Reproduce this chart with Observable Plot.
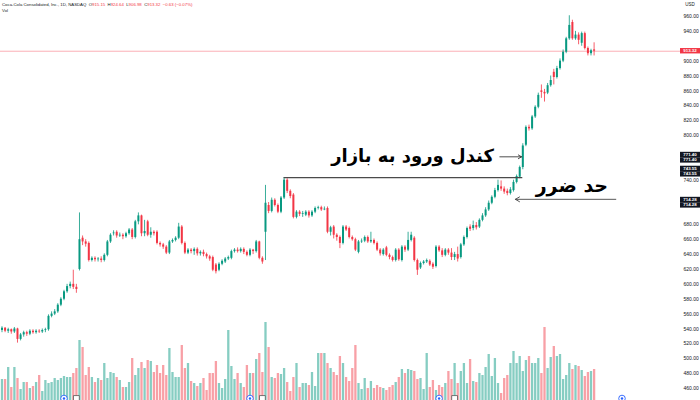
<!DOCTYPE html>
<html><head><meta charset="utf-8">
<script src="https://cdn.jsdelivr.net/npm/d3@7"></script>
<script src="https://cdn.jsdelivr.net/npm/@observablehq/plot@0.6"></script>
<style>
html,body{margin:0;padding:0;background:#fff;}
#wrap{position:relative;width:700px;height:400px;overflow:hidden;background:#fff;}
#wrap svg{position:absolute;left:0;top:0;}
</style></head><body><div id="wrap"></div>
<script>
const opens = [538,541,537,539,536,540,526,532,535,533,537,535,537,536,538,539,557,560,563,572,580,590,597,600,596,620,662,657,655,632,635,633,634,632,639,657,668,670,665,666,664,668,673,663,684,692,668,684,666,670,670,655,653,650,642,657,659,662,677,655,642,646,644,647,641,643,640,637,636,626,619,627,630,634,635,644,646,644,647,643,639,646,644,657,635,670,706,698,713,706,697,716,740,725,720,690,697,694,693,697,692,697,702,703,700,702,670,677,666,663,655,677,675,663,660,643,657,658,663,657,659,655,646,640,649,639,636,632,646,632,650,646,659,662,632,622,628,630,631,627,624,650,645,639,646,642,636,640,636,653,663,677,675,679,677,686,692,700,709,717,726,731,728,725,722,726,737,744,757,787,811,809,825,838,860,858,857,867,885,878,890,900,912,930,952,930,935,924,937,917,910,915.15];
const highs = [543,542,541,540,542,541,534,537,537,539,539,539,539,540,541,559,563,566,574,582,592,600,603,619,600,696,665,660,657,637,637,636,637,641,659,668,672,672,669,668,670,675,675,686,696,693,686,686,676,672,672,657,655,652,659,661,664,682,679,657,648,648,649,649,645,646,642,639,638,628,629,633,636,638,646,648,649,649,649,645,648,647,659,658,637,733,710,716,715,708,718,743.55,742,727,722,699,699,698,699,699,699,704,705,705,704,704,678,679,668,665,679,679,677,665,662,659,661,665,665,670,661,657,648,648,651,641,638,648,648,652,652,670,670,664,634,630,632,634,633,629,652,652,648,648,648,648,643,650,655,665,677,680,685,683,688,695,703,712,719,729,740,739,731,728,730,740,747,759,789,813,814,827,840,857,868,862,870,880,889,893,903,915,932,961,955,940,938,939,939,919,916,924.64];
const lows = [535,535,534,533,534,521,524,529,530,531,533,533,534,534,535,537,555,558,561,570,578,588,594,593,588,618,652,650,630,630,630,630,629,630,637,655,665,662,663,660,662,666,660,661,680,664,664,664,662,665,653,650,647,640,640,655,657,660,653,640,640,641,639,638,638,637,634,631,617,614,617,625,628,632,633,642,642,642,640,637,637,640,642,633,627,632,695,696,704,695,695,714,722,715,688,688,691,690,691,689,690,695,700,698,699,668,665,661,658,648,653,671,661,658,644,641,655,656,655,655,653,644,638,638,637,633,630,630,631,630,643,644,657,630,612,620,626,628,624,620,622,643,636,637,639,632,632,630,634,651,661,671,672,673,675,684,690,698,707,715,724,725,721,719,720,724,735,742,754,785,806,807,823,836,850,845,855,865,868,876,888,898,910,928,928,928,922,920,915,907,907,906.98];
const closes = [541,537,539,536,540,526,532,535,533,537,535,537,536,538,539,557,560,563,572,580,590,597,600,596,593,660,657,654,632,635,633,634,632,639,657,666,669,665,666,664,668,673,663,684,692,668,671,666,670,668,655,653,650,642,657,659,662,677,655,642,646,644,647,641,643,640,637,634,619,617,627,631,634,636,644,646,644,647,643,639,646,644,657,635,630,709,698,713,706,697,716,740,725,718,690,697,694,695,697,692,697,702,703,700,701,670,676,666,663,655,677,673,663,660,646,657,658,663,657,659,655,646,641,646,639,636,632,646,633,650,646,659,666,632,619,628,630,632,626,623,650,645,639,646,642,636,640,634,653,663,675,674,679,676,686,692,700,709,717,726,733,728,724,722,727,737,745,757,786,811,809,825,838,854,858,856,867,874,878,890,900,912,930,948,930,935,928,937,917,910,913.95,913.32];
const volumes = [21,21,33,13,33,22,11,18,18,12,14,18,25,9,20,17,18,22,20,22,24,23,23,27,32,60,53,25,33,23,18,22,20,37,22,28,27,23,20,13,13,18,42,25,32,38,32,40,39,28,35,27,35,25,52,28,23,23,55,32,37,19,17,14,17,22,10,27,27,39,17,12,21,70,34,21,27,17,13,35,27,27,41,47,28,78,53,23,22,27,26,32,18,9,23,37,13,17,17,15,28,14,47,47,47,37,32,28,25,44,37,23,19,32,55,17,11,22,12,19,12,15,13,12,10,13,15,18,23,31,27,31,30,29,21,22,11,47,13,20,10,15,13,17,29,21,37,17,29,37,17,41,19,18,27,25,33,46,24,42,17,7,22,25,37,49,37,44,29,40,44,37,37,42,27,73,32,43,54,44,46,21,25,37,31,35,34,30,24,28,29,31];
const priceTicks = [460,480,500,520,540,560,580,600,620,640,660,680,700,720,740,760,780,800,820,840,860,880,900,920,940,960];
const earningsIdx = [20, 80, 141, 200];
const dividendIdx = [24, 84, 146];
const titleText = "Coca-Cola Consolidated, Inc., 1D, NASDAQ";
const entryLabel = "کندل ورود به بازار";
const stopLabel = "حد ضرر";
const levelPrice = 743.55, levelFrom = 91, levelTo = 168;
const entryPrice = 771.40, entryArrowFrom = 160.6, entryArrowTo = 167.6;
const stopPrice = 714.28, stopArrowFrom = 198, stopArrowTo = 165.6;

const UP = "#089981", DOWN = "#f23645";
const candles = opens.map((o, i) => ({i, open: o, high: highs[i], low: lows[i], close: closes[i], vol: volumes[i], up: closes[i] >= o}));
const last = candles[candles.length - 1];
const prevClose = closes[closes.length - 2];
const xDomain = [-0.48, 218.87];
const yDomain = [460, 960];
const font = "'Liberation Sans', Arial, sans-serif";

// tags on the price scale: [value, shift in px, colour]
const tags = [
  [last.close, -2.7, DOWN],
  [entryPrice, -4.5, "#131722"], [entryPrice, 0.9, "#131722"],
  [levelPrice, -11.3, "#131722"], [levelPrice, -5.9, "#131722"],
  [stopPrice, -2, "#131722"], [stopPrice, 3.4, "#131722"]
];
// hide tick labels that the tags cover (as on the reference)
const yPx = d3.scaleLinear().domain(yDomain).range([400 - 12, 16]);
const shownTicks = priceTicks.filter(t => !tags.some(([v, s]) => {
  const top = yPx(v) + s, ty = yPx(t);
  return ty > top - 2.5 && ty < top + 7.9;
}));

const volPlot = Plot.plot({
  width: 700, height: 400, marginLeft: 0, marginRight: 20, marginTop: 0, marginBottom: 0,
  x: {domain: xDomain, axis: null},
  y: {domain: [0, 400], axis: null},
  style: {background: "transparent"},
  marks: [
    Plot.ruleX(candles, {x: "i", y1: 0, y2: "vol", stroke: d => d.up ? "#86cdc2" : "#f8a0a6", strokeWidth: 2.3}),
    Plot.dot(earningsIdx, {x: d => d, y: 0, dy: -2, r: 3.3, stroke: "#2962ff", fill: "white", strokeWidth: 0.9}),
    Plot.dot(earningsIdx, {x: d => d, y: 0, dy: -2, r: 1.2, fill: "#2962ff"}),
    Plot.dot(dividendIdx, {x: d => d, y: 0, dy: -2, r: 3.3, symbol: "square", stroke: "#555", fill: "white", strokeWidth: 0.8})
  ]
});

const pricePlot = Plot.plot({
  width: 700, height: 400, marginLeft: 0, marginRight: 20, marginTop: 16, marginBottom: 12,
  x: {domain: xDomain, axis: null},
  y: {domain: yDomain, axis: null},
  style: {background: "transparent", fontFamily: font, fontSize: "5px", color: "#131722"},
  marks: [
    Plot.ruleY([last.close], {stroke: DOWN, strokeOpacity: 0.5, strokeWidth: 0.8}),
    Plot.ruleX(candles, {x: "i", y1: "low", y2: "high", stroke: d => d.up ? UP : DOWN, strokeWidth: 0.8}),
    Plot.ruleX(candles, {x: "i", y1: "open", y2: "close", stroke: d => d.up ? UP : DOWN, strokeWidth: 2.0}),
    Plot.axisY({anchor: "right", ticks: shownTicks, tickFormat: d => d.toFixed(2), tickSize: 0, tickPadding: 3, label: null, fontSize: 5}),
    Plot.ruleY([levelPrice], {x1: levelFrom, x2: levelTo, stroke: "#4a4a4a", strokeWidth: 1.3}),
    Plot.arrow([0], {x1: entryArrowFrom, x2: entryArrowTo, y1: entryPrice, y2: entryPrice, stroke: "#222", strokeWidth: 0.8, headLength: 7}),
    Plot.arrow([0], {x1: stopArrowFrom, x2: stopArrowTo, y1: stopPrice, y2: stopPrice, stroke: "#444", strokeWidth: 0.9, headLength: 8}),
    Plot.text([entryLabel], {x: entryArrowFrom, y: entryPrice, text: d => d, textAnchor: "end", dx: -6, dy: -1, fontSize: 18, fontWeight: "bold", fontFamily: "'DejaVu Sans'", fill: "#000"}),
    Plot.text([stopLabel], {x: stopArrowFrom - 2.5, y: stopPrice, text: d => d, textAnchor: "end", dy: -13, fontSize: 19, fontWeight: "bold", fontFamily: "'DejaVu Sans'", fill: "#000"})
  ]
});

const wrap = document.getElementById("wrap");
wrap.appendChild(volPlot);
wrap.appendChild(pricePlot);

const svg = d3.select(pricePlot);
const ys = pricePlot.scale("y");
// header
const head = svg.append("text").attr("x", 2).attr("y", 6).attr("font-size", 4.3).attr("font-family", font).attr("fill", "#131722").attr("text-anchor", "start");
head.append("tspan").text(titleText + "  ");
[["O", last.open], ["H", last.high], ["L", last.low], ["C", last.close]].forEach(([k, v]) => {
  head.append("tspan").attr("fill", "#131722").text(k);
  head.append("tspan").attr("fill", DOWN).text(v.toFixed(2) + "  ");
});
const chg = last.close - prevClose;
head.append("tspan").attr("fill", DOWN).text((chg < 0 ? "\u2212" : "+") + Math.abs(chg).toFixed(2) + " (" + (chg < 0 ? "\u2212" : "+") + Math.abs(chg / prevClose * 100).toFixed(2) + "%)");
svg.append("text").attr("x", 2).attr("y", 12).attr("font-size", 4.3).attr("font-family", font).attr("fill", "#131722").attr("text-anchor", "start").text("Vol");
svg.append("text").attr("x", 690).attr("y", 6).attr("font-size", 4.5).attr("font-family", font).attr("fill", "#131722").attr("text-anchor", "middle").text("USD");

// price tags on the scale
tags.forEach(([value, shift, fill]) => {
  const y = ys.apply(value) + shift;
  svg.append("rect").attr("x", 680).attr("y", y).attr("width", 20).attr("height", 5.4).attr("fill", fill);
  svg.append("text").attr("x", 690).attr("y", y + 4.1).attr("font-size", 4.4).attr("font-family", font).attr("font-weight", "bold").attr("fill", "#fff").attr("text-anchor", "middle").text(value.toFixed(2));
});
</script></body></html>
